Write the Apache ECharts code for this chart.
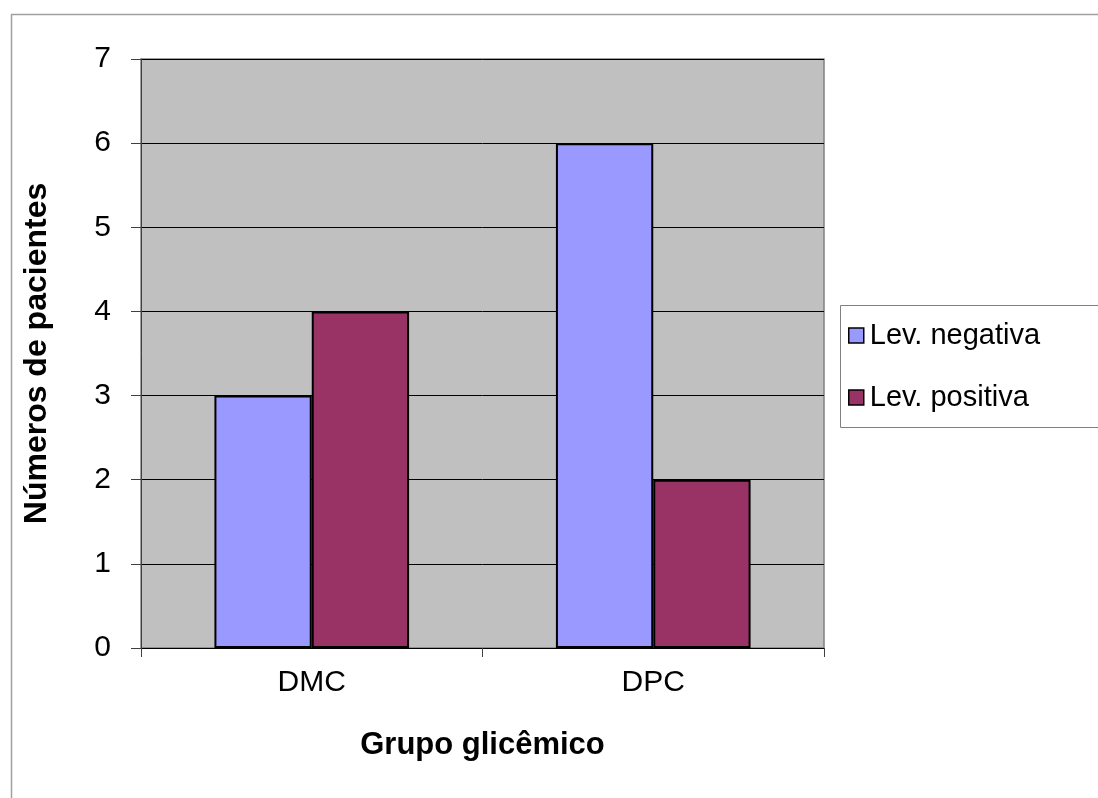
<!DOCTYPE html>
<html><head><meta charset="utf-8">
<script src="https://cdn.jsdelivr.net/npm/echarts@6/dist/echarts.min.js"></script>
<style>html,body{margin:0;padding:0;background:#fff}#c{width:1098px;height:798px}</style>
</head><body><div id="c"></div>
<script>
const categories = ['DMC', 'DPC'];
const negativa = [3, 6];
const positiva = [4, 2];
const seriesNames = ['Lev. negativa', 'Lev. positiva'];

const chart = echarts.init(document.getElementById('c'));
const F = 'Liberation Sans, Arial, sans-serif';
chart.setOption({
  animation: false,
  backgroundColor: '#fff',
  graphic: [
    {type: 'rect', left: 9, top: 12, shape: {width: 1200, height: 900}, style: {fill: 'none', stroke: '#a0a0a0', lineWidth: 1.5}, z: -10},
    {type: 'rect', left: 840, top: 305, shape: {width: 300, height: 122}, style: {fill: '#fff', stroke: '#808080', lineWidth: 1}, z: 0}
  ],
  grid: {left: 141, right: 274, top: 59, bottom: 150, show: true, backgroundColor: '#c0c0c0', borderColor: '#808080', borderWidth: 1.5},
  legend: {
    orient: 'vertical', left: 848, top: 321, padding: 0, itemWidth: 15, itemHeight: 15, itemGap: 33,
    textStyle: {fontSize: 29, lineHeight: 29, fontFamily: F, color: '#000', padding: [0, 0, 0, 1]},
    data: seriesNames.map(n => ({name: n, icon: 'rect', itemStyle: {borderColor: '#000', borderWidth: 1.5}})),
    z: 5
  },
  xAxis: {
    type: 'category', data: categories,
    name: 'Grupo glicêmico', nameLocation: 'middle', nameGap: 82,
    nameTextStyle: {fontSize: 31, fontWeight: 'bold', fontFamily: F, color: '#000'},
    axisLine: {lineStyle: {color: '#000', width: 1}},
    axisTick: {show: true, length: 9, lineStyle: {color: '#404040'}},
    axisLabel: {fontSize: 30, fontFamily: F, color: '#000', margin: 20}
  },
  yAxis: {
    type: 'value', min: 0, max: 7, interval: 1,
    name: 'Números de pacientes', nameLocation: 'middle', nameGap: 88,
    nameTextStyle: {fontSize: 32, fontWeight: 'bold', fontFamily: F, color: '#000'},
    axisLine: {show: true, lineStyle: {color: '#404040', width: 1}},
    axisTick: {show: true, length: 10, lineStyle: {color: '#404040'}},
    axisLabel: {fontSize: 30, fontFamily: F, color: '#000', margin: 30},
    splitLine: {show: true, lineStyle: {color: '#000', width: 1}}
  },
  series: [
    {name: seriesNames[0], type: 'bar', data: negativa, barWidth: '28.5%', barGap: '0%',
     itemStyle: {color: '#9999ff', borderColor: '#000', borderWidth: 2}},
    {name: seriesNames[1], type: 'bar', data: positiva, barWidth: '28.5%', barGap: '0%',
     itemStyle: {color: '#993366', borderColor: '#000', borderWidth: 2}}
  ]
});
</script></body></html>
